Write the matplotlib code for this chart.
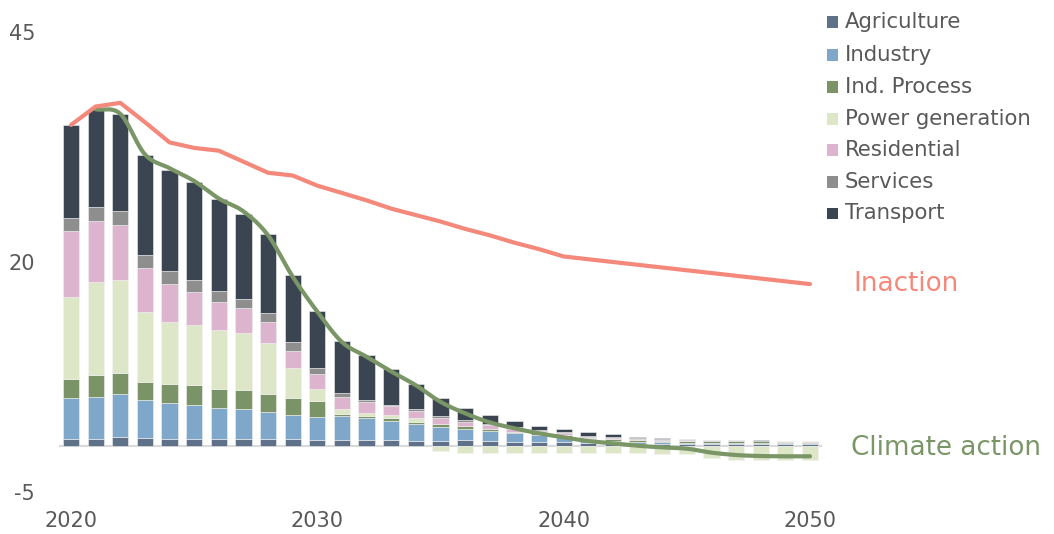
import numpy as np
import matplotlib
matplotlib.use("Agg")
import matplotlib.pyplot as plt
from matplotlib.patches import Rectangle

plt.rcParams["font.family"] = ["DejaVu Sans"]
plt.rcParams["axes.unicode_minus"] = False

years = list(range(2020, 2051))

agriculture = [0.78, 0.78, 0.96, 0.85, 0.78, 0.78, 0.78, 0.78, 0.78, 0.78, 0.63, 0.63, 0.63, 0.63, 0.57, 0.58,
               0.60, 0.50, 0.45, 0.40, 0.40, 0.29, 0.29, 0.22, 0.20, 0.20, 0.19, 0.18, 0.18, 0.17, 0.17]
industry = [4.46, 4.60, 4.64, 4.10, 3.84, 3.73, 3.40, 3.26, 2.94, 2.64, 2.54, 2.61, 2.39, 2.07, 1.77, 1.49,
            1.25, 1.10, 0.93, 0.80, 0.61, 0.44, 0.29, 0.20, 0.20, 0.18, 0.16, 0.15, 0.14, 0.13, 0.13]
ind_process = [2.00, 2.36, 2.31, 1.98, 2.17, 2.14, 2.04, 2.03, 1.88, 1.82, 1.70, 0.26, 0.26, 0.29, 0.25, 0.32,
               0.29, 0.25, 0.17, 0.18, 0.15, 0.14, 0.18, 0.20, 0.18, 0.18, 0.18, 0.18, 0.18, 0.18, 0.18]
power_generation = [8.95, 10.06, 10.16, 7.61, 6.71, 6.48, 6.37, 6.19, 5.60, 3.22, 1.35, 0.47, 0.36, 0.36, 0.43,
                    -0.55, -0.80, -0.80, -0.80, -0.80, -0.80, -0.80, -0.80, -0.80, -0.90, -0.90, -1.34, -1.52,
                    -1.52, -1.52, -1.52]
residential = [7.15, 6.70, 5.93, 4.83, 4.09, 3.63, 3.04, 2.69, 2.33, 1.92, 1.58, 1.38, 1.12, 1.02, 0.81, 0.65,
               0.50, 0.43, 0.33, 0.22, 0.22, 0.14, 0.11, 0.10, 0.08, 0.06, 0.04, 0.02, 0.01, 0.01, 0.01]
services = [1.45, 1.46, 1.49, 1.41, 1.38, 1.23, 1.27, 1.05, 0.90, 0.90, 0.66, 0.36, 0.26, 0.14, 0.17, 0.22,
            0.15, 0.14, 0.19, 0.14, 0.14, 0.11, 0.14, 0.10, 0.10, 0.09, 0.08, 0.08, 0.08, 0.07, 0.07]
transport = [10.10, 10.70, 10.65, 10.90, 11.08, 10.73, 10.00, 9.27, 8.56, 7.32, 6.16, 5.68, 4.82, 3.81, 2.76,
             1.92, 1.34, 0.95, 0.65, 0.47, 0.36, 0.37, 0.26, 0.15, 0.07, 0.05, 0.04, 0.04, 0.03, 0.02, 0.02]

inaction = [34.9, 36.9, 37.3, 35.2, 33.0, 32.4, 32.1, 30.9, 29.7, 29.4, 28.3, 27.5, 26.7, 25.8, 25.1, 24.4,
            23.6, 22.9, 22.1, 21.4, 20.6, 20.3, 20.0, 19.7, 19.4, 19.1, 18.8, 18.5, 18.2, 17.9, 17.6]
climate_years = list(range(2021, 2051))
climate_action = [36.6, 36.1, 31.7, 30.2, 28.8, 26.9, 25.5, 22.9, 18.4, 14.6, 11.3, 9.7, 8.1, 6.6, 4.8,
                  3.55, 2.57, 1.92, 1.38, 0.94, 0.54, 0.29, 0.03, -0.15, -0.29, -0.72, -0.98, -1.09, -1.12,
                  -1.12]

sectors = ["Agriculture", "Industry", "Ind. Process", "Power generation", "Residential", "Services", "Transport"]
series = [agriculture, industry, ind_process, power_generation, residential, services, transport]
colors = ["#5F7189", "#7FA7C9", "#7A9468", "#DEE6C8", "#DDB4CD", "#8E8E8E", "#3B4552"]

INACTION_COLOR = "#F4887A"
ACTION_COLOR = "#7A9566"
TEXT_COLOR = "#595959"


def catmull_rom(x, y, n=20):
    """Smooth curve through the given points (Catmull-Rom spline)."""
    x = np.asarray(x, float)
    y = np.asarray(y, float)
    px = np.concatenate([[2 * x[0] - x[1]], x, [2 * x[-1] - x[-2]]])
    py = np.concatenate([[2 * y[0] - y[1]], y, [2 * y[-1] - y[-2]]])
    xs, ys = [], []
    t = np.linspace(0, 1, n, endpoint=False)
    for i in range(1, len(px) - 2):
        for arr, out in ((px, xs), (py, ys)):
            p0, p1, p2, p3 = arr[i - 1], arr[i], arr[i + 1], arr[i + 2]
            out.extend(0.5 * ((2 * p1) + (-p0 + p2) * t + (2 * p0 - 5 * p1 + 4 * p2 - p3) * t ** 2
                              + (-p0 + 3 * p1 - 3 * p2 + p3) * t ** 3))
    xs.append(x[-1])
    ys.append(y[-1])
    return np.array(xs), np.array(ys)


W, H = 1054, 534
fig = plt.figure(figsize=(W / 100, H / 100), dpi=100)
ax = fig.add_axes([58.7 / W, (H - 492) / H, (822.3 - 58.7) / W, (492 - 32) / H])

x = np.array(years)
pos_base = np.zeros(len(years))
neg_base = np.zeros(len(years))
for vals, col in zip(series, colors):
    v = np.array(vals)
    bottom = np.where(v >= 0, pos_base, neg_base)
    ax.bar(x, v, bottom=bottom, width=0.66, color=col, edgecolor="#F2F2F2", linewidth=0.4, zorder=2)
    pos_base += np.clip(v, 0, None)
    neg_base += np.clip(v, None, 0)

ax.axhline(0, color="#D9D9D9", linewidth=1.5, zorder=1)

ax.plot(years, inaction, color=INACTION_COLOR, linewidth=3.0, solid_capstyle="round",
        solid_joinstyle="round", zorder=4)
sx, sy = catmull_rom(climate_years, climate_action)
ax.plot(sx, sy, color=ACTION_COLOR, linewidth=3.0, solid_capstyle="round", zorder=3)

ax.set_xlim(2019.5, 2050.5)
ax.set_ylim(-5, 45)
ax.set_yticks([-5, 20, 45])
ax.set_xticks([2020, 2030, 2040, 2050])
ax.tick_params(axis="both", length=0, labelsize=15, colors=TEXT_COLOR)
ax.tick_params(axis="y", pad=17)
ax.tick_params(axis="x", pad=14)
for s in ax.spines.values():
    s.set_visible(False)

# legend: colour squares with sector names
row_y = [22, 55, 87, 119, 150, 182, 213]
for name, col, yc in zip(sectors, colors, row_y):
    fig.patches.append(Rectangle((827 / W, 1 - (yc + 5.5) / H), 11 / W, 11 / H,
                                 transform=fig.transFigure, facecolor=col, edgecolor="none"))
    fig.text(845 / W, 1 - yc / H, name, fontsize=15.3, color=TEXT_COLOR, va="center", ha="left")

fig.text(853 / W, 1 - 284 / H, "Inaction", fontsize=18.8, color=INACTION_COLOR, va="center", ha="left")
fig.text(851 / W, 1 - 448 / H, "Climate action", fontsize=18.8, color=ACTION_COLOR, va="center", ha="left")

fig.savefig("out.png", dpi=100)
